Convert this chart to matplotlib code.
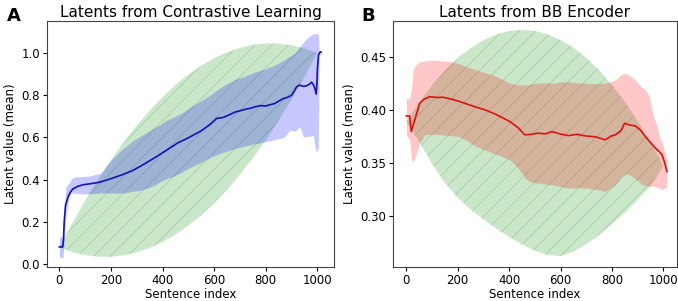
import numpy as np
import matplotlib
matplotlib.use('Agg')
import matplotlib.pyplot as plt

# ---- Panel A: latents from contrastive learning ----
a_line_x = [0, 13, 16, 19, 24, 33, 42, 52, 70, 91, 120, 155, 180, 207, 240, 284, 330, 375, 416,
            460, 490, 519, 545, 560, 585, 610, 636, 660, 681, 700, 720, 740, 759, 780, 800, 820,
            836, 850, 870, 885, 901, 912, 920, 933, 945, 959, 970, 978, 985, 991, 996, 999,
            1001, 1005, 1010, 1015]
a_line_y = [0.082, 0.082, 0.12, 0.205, 0.28, 0.316, 0.34, 0.356, 0.368, 0.376, 0.381, 0.388,
            0.397, 0.408, 0.422, 0.443, 0.475, 0.508, 0.54, 0.575, 0.592, 0.611, 0.628, 0.64,
            0.662, 0.69, 0.695, 0.708, 0.72, 0.726, 0.733, 0.738, 0.745, 0.751, 0.749, 0.756,
            0.761, 0.772, 0.785, 0.79, 0.80, 0.822, 0.84, 0.848, 0.842, 0.845, 0.852, 0.862,
            0.85, 0.832, 0.805, 0.86, 0.93, 0.99, 1.003, 1.005]

a_band_x = [0, 14, 18, 22, 26, 33, 39, 45, 52, 65, 91, 116, 140, 162, 185, 207, 235, 260, 286,
            313, 340, 370, 390, 416, 450, 481, 510, 545, 584, 623, 650, 681, 720, 759, 800, 836,
            870, 894, 914, 933, 946, 965, 985, 995, 1004, 1008, 1014]
a_band_lo = [0.035, 0.03, 0.10, 0.18, 0.24, 0.29, 0.32, 0.335, 0.338, 0.335, 0.333, 0.333,
             0.335, 0.337, 0.338, 0.337, 0.336, 0.34, 0.345, 0.35, 0.36, 0.375, 0.39, 0.405,
             0.42, 0.44, 0.46, 0.48, 0.505, 0.525, 0.535, 0.548, 0.56, 0.57, 0.58, 0.59,
             0.60, 0.634, 0.63, 0.65, 0.603, 0.605, 0.61, 0.53, 0.55, 0.99, 0.995]
a_band_hi = [0.13, 0.13, 0.25, 0.32, 0.366, 0.38, 0.387, 0.40, 0.41, 0.413, 0.415, 0.418,
             0.425, 0.432, 0.47, 0.50, 0.535, 0.56, 0.585, 0.605, 0.625, 0.648, 0.66, 0.682,
             0.70, 0.72, 0.745, 0.77, 0.80, 0.835, 0.855, 0.875, 0.89, 0.91, 0.925, 0.943,
             0.965, 0.985, 1.0, 1.03, 1.05, 1.075, 1.09, 1.093, 1.09, 1.01, 1.005]

lens_x = [0, 50, 100, 150, 200, 250, 300, 350, 400, 450, 500, 550, 600, 650, 700, 750, 800,
          850, 900, 950, 1000]
a_lens_hi = [0.08, 0.194, 0.301, 0.400, 0.493, 0.578, 0.656, 0.727, 0.791, 0.848, 0.898, 0.940,
             0.975, 1.003, 1.024, 1.038, 1.045, 1.044, 1.037, 1.022, 1.0]
a_lens_lo = [0.08, 0.058, 0.043, 0.036, 0.035, 0.042, 0.056, 0.077, 0.105, 0.140, 0.183, 0.232,
             0.289, 0.353, 0.424, 0.502, 0.587, 0.680, 0.779, 0.886, 1.0]

# ---- Panel B: latents from BB encoder ----
b_line_x = [0, 13, 19, 26, 33, 52, 70, 91, 120, 143, 175, 208, 240, 273, 305, 338, 370, 403,
            435, 461, 485, 513, 540, 566, 600, 631, 665, 696, 735, 774, 795, 813, 835, 849, 870,
            891, 910, 930, 950, 969, 982, 995, 1005, 1014]
b_line_y = [0.3942, 0.394, 0.3794, 0.385, 0.3904, 0.4061, 0.410, 0.4123, 0.4115, 0.4118, 0.410,
            0.4077, 0.405, 0.4023, 0.400, 0.3967, 0.393, 0.3888, 0.383, 0.3763, 0.3768, 0.3779,
            0.3772, 0.3794, 0.377, 0.3756, 0.3768, 0.3753, 0.3745, 0.3716, 0.375, 0.3763, 0.380,
            0.3873, 0.3855, 0.3847, 0.381, 0.3747, 0.369, 0.3637, 0.361, 0.3574, 0.350, 0.3417]

b_band_x = [0, 13, 20, 26, 33, 52, 71, 104, 143, 175, 208, 240, 273, 305, 338, 370, 403, 435,
            468, 490, 513, 540, 566, 600, 631, 665, 696, 735, 774, 795, 813, 830, 845, 860, 878,
            891, 917, 930, 945, 962, 975, 988, 995, 1005, 1014]
b_band_lo = [0.3763, 0.3716, 0.3527, 0.351, 0.354, 0.3685, 0.3763, 0.377, 0.3763, 0.3755,
             0.3747, 0.370, 0.3653, 0.362, 0.359, 0.356, 0.3527, 0.345, 0.3339, 0.3315, 0.3308,
             0.330, 0.3292, 0.3275, 0.3261, 0.3265, 0.3261, 0.325, 0.3229, 0.3265, 0.3292,
             0.335, 0.339, 0.3395, 0.337, 0.335, 0.3292, 0.3285, 0.328, 0.3278, 0.327, 0.3255,
             0.3245, 0.326, 0.3276]
b_band_hi = [0.4108, 0.41, 0.42, 0.4375, 0.441, 0.4453, 0.446, 0.4469, 0.446, 0.4453, 0.443,
             0.440, 0.4375, 0.435, 0.4328, 0.429, 0.425, 0.4235, 0.4233, 0.4245, 0.425, 0.4255,
             0.425, 0.426, 0.4265, 0.4255, 0.425, 0.4245, 0.425, 0.4265, 0.428, 0.432, 0.4344,
             0.4335, 0.4305, 0.428, 0.421, 0.4186, 0.413, 0.3935, 0.385, 0.3716, 0.37, 0.36,
             0.3527]

b_lens_hi = [0.389, 0.407, 0.423, 0.437, 0.4486, 0.458, 0.4657, 0.471, 0.4742, 0.4753, 0.4743,
             0.4711, 0.4658, 0.4584, 0.4489, 0.4372, 0.4234, 0.4075, 0.3895, 0.3693, 0.347]
b_lens_lo = [0.389, 0.370, 0.349, 0.331, 0.317, 0.306, 0.2965, 0.288, 0.280, 0.273, 0.267,
             0.263, 0.262, 0.266, 0.273, 0.282, 0.292, 0.303, 0.315, 0.328, 0.347]

plt.rcParams['hatch.linewidth'] = 0.6


def draw_panel(ax, lens_lo, lens_hi, band_x, band_lo, band_hi, line_x, line_y, color, line_color):
    ax.fill_between(lens_x, lens_lo, lens_hi, facecolor='#2ca02c', edgecolor='#2a8a2a',
                    alpha=0.25, hatch='//', linewidth=0)
    ax.fill_between(band_x, band_lo, band_hi, color=color, alpha=0.22, linewidth=0)
    ax.plot(line_x, line_y, color=line_color, linewidth=1.2)
    ax.set_xlabel('Sentence index', fontsize=8.5, labelpad=1)
    ax.set_ylabel('Latent value (mean)', fontsize=8.5, labelpad=3)
    ax.set_xticks([0, 200, 400, 600, 800, 1000])
    ax.tick_params(labelsize=8.5, length=3, pad=2)
    for s in ax.spines.values():
        s.set_color('#444444')


fig = plt.figure(figsize=(6.78, 3.01), dpi=100)
ax1 = fig.add_axes([0.0693, 0.113, 0.4233, 0.817])
ax2 = fig.add_axes([0.5796, 0.113, 0.4189, 0.817])

draw_panel(ax1, a_lens_lo, a_lens_hi, a_band_x, a_band_lo, a_band_hi, a_line_x, a_line_y,
           'blue', '#1212b8')
ax1.set_xlim(-48, 1065)
ax1.set_ylim(-0.013, 1.151)
ax1.set_yticks([0.0, 0.2, 0.4, 0.6, 0.8, 1.0])
ax1.set_title('Latents from Contrastive Learning', fontsize=11, pad=3)

draw_panel(ax2, b_lens_lo, b_lens_hi, b_band_x, b_band_lo, b_band_hi, b_line_x, b_line_y,
           'red', '#dd1111')
ax2.set_xlim(-52, 1053)
ax2.set_ylim(0.2517, 0.4836)
ax2.set_yticks([0.30, 0.35, 0.40, 0.45])
ax2.set_title('Latents from BB Encoder', fontsize=11, pad=3)

fig.text(0.010, 0.978, 'A', fontsize=13, fontweight='bold', va='top')
fig.text(0.533, 0.978, 'B', fontsize=13, fontweight='bold', va='top')

fig.savefig('out.png', dpi=100)
